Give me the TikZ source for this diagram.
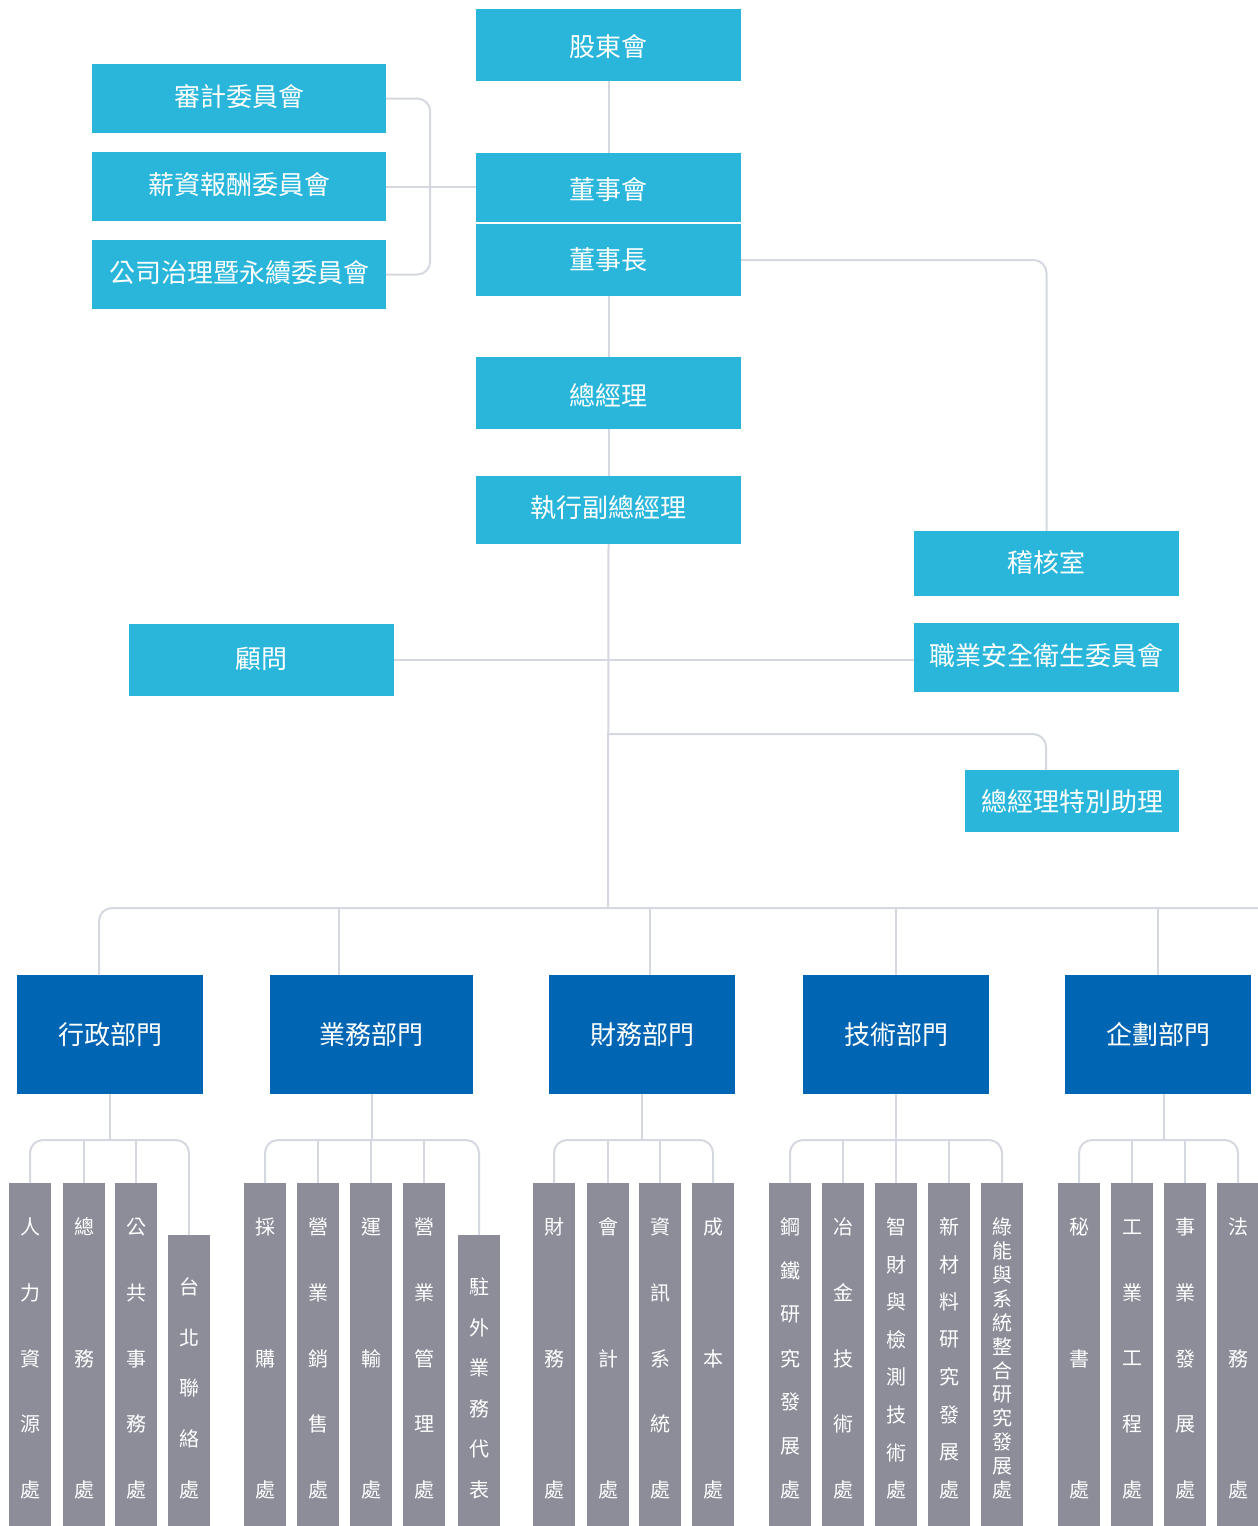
\documentclass[tikz,border=0pt]{standalone}
\usepackage{fontspec}
\newfontfamily\tcfont{Noto Sans CJK TC}
\usetikzlibrary{calc}
\definecolor{cyanbox}{RGB}{41,182,218}
\definecolor{deptblue}{RGB}{0,102,179}
\definecolor{subgray}{RGB}{140,141,153}
\definecolor{connline}{RGB}{213,216,224}
\tikzset{
  topbox/.style={fill=cyanbox, text=white, inner sep=0pt, font=\tcfont\fontsize{26}{30}\selectfont},
  deptbox/.style={fill=deptblue, text=white, inner sep=0pt, minimum height=119pt, font=\tcfont\fontsize{26}{30}\selectfont},
  subbox/.style={fill=subgray, inner sep=0pt, minimum width=42pt},
  subtext/.style={text=white, inner sep=0pt, font=\tcfont\fontsize{20}{24}\selectfont},
  conn/.style={draw=connline, line width=2pt, rounded corners=13pt},
}
% move the ink of a label down by #1 without changing its box
\newcommand{\lowertext}[2]{\raisebox{-#1}[\height][\depth]{#2}}
\newcommand{\subcol}[6]{%
  \pgfmathsetlengthmacro\subh{(1526-#3)*1pt}%
  \node[subbox, minimum height=\subh, anchor=north] (#1) at (#2,#3) {};
  \foreach \ch [count=\ci] in {#6} {
    \pgfmathsetmacro\yy{#4+(\ci-1)*(1490-#4)/(#5-1)}
    \node[subtext] (#1-\ci) at (#2,\yy) {\ch};
  }
}
\begin{document}
\begin{tikzpicture}[x=1pt, y=-1pt]
\useasboundingbox (0,0) rectangle (1258,1526);
% top boxes
\node[topbox, minimum width=265pt, minimum height=72pt] (sh) at (608.5,45) {\lowertext{2pt}{股東會}};
\node[topbox, minimum width=294pt, minimum height=69pt] (audit) at (239,98.5) {\lowertext{-1.5pt}{審計委員會}};
\node[topbox, minimum width=294pt, minimum height=69pt] (salary) at (239,186.5) {\lowertext{-1.5pt}{薪資報酬委員會}};
\node[topbox, minimum width=294pt, minimum height=69pt] (gov) at (239,274.5) {\lowertext{-1.5pt}{公司治理暨永續委員會}};
\node[topbox, minimum width=265pt, minimum height=69pt] (board) at (608.5,187.5) {\lowertext{2pt}{董事會}};
\node[topbox, minimum width=265pt, minimum height=72pt] (chair) at (608.5,260) {\lowertext{-0.5pt}{董事長}};
\node[topbox, minimum width=265pt, minimum height=72pt] (gm) at (608.5,393) {\lowertext{2.5pt}{總經理}};
\node[topbox, minimum width=265pt, minimum height=68pt] (evp) at (608.5,510) {\lowertext{-2.5pt}{執行副總經理}};
\node[topbox, minimum width=265pt, minimum height=65pt] (auditoff) at (1046.5,563.5) {\lowertext{-1.5pt}{稽核室}};
\node[topbox, minimum width=265pt, minimum height=72pt] (advisor) at (261.5,660) {\lowertext{-1.5pt}{顧問}};
\node[topbox, minimum width=265pt, minimum height=69pt] (safety) at (1046.5,657.5) {\lowertext{-1.5pt}{職業安全衛生委員會}};
\node[topbox, minimum width=214pt, minimum height=62pt] (assist) at (1072,801) {\lowertext{1pt}{總經理特別助理}};
% departments
\node[deptbox, minimum width=186pt] (d1) at (110,1034.5) {行政部門};
\node[deptbox, minimum width=203pt] (d2) at (371.5,1034.5) {業務部門};
\node[deptbox, minimum width=186pt] (d3) at (642,1034.5) {財務部門};
\node[deptbox, minimum width=186pt] (d4) at (896,1034.5) {技術部門};
\node[deptbox, minimum width=186pt] (d5) at (1158,1034.5) {企劃部門};
% sub units
\subcol{s11}{30}{1183}{1227}{5}{人,力,資,源,處}
\subcol{s12}{84}{1183}{1227}{3}{總,務,處}
\subcol{s13}{136}{1183}{1227}{5}{公,共,事,務,處}
\subcol{s14}{189}{1235}{1287}{5}{台,北,聯,絡,處}
\subcol{s21}{265}{1183}{1227}{3}{採,購,處}
\subcol{s22}{318}{1183}{1227}{5}{營,業,銷,售,處}
\subcol{s23}{371}{1183}{1227}{3}{運,輸,處}
\subcol{s24}{424}{1183}{1227}{5}{營,業,管,理,處}
\subcol{s25}{479}{1235}{1287}{6}{駐,外,業,務,代,表}
\subcol{s31}{554}{1183}{1227}{3}{財,務,處}
\subcol{s32}{608}{1183}{1227}{3}{會,計,處}
\subcol{s33}{660}{1183}{1227}{5}{資,訊,系,統,處}
\subcol{s34}{713}{1183}{1227}{3}{成,本,處}
\subcol{s41}{790}{1183}{1227}{7}{鋼,鐵,研,究,發,展,處}
\subcol{s42}{843}{1183}{1227}{5}{冶,金,技,術,處}
\subcol{s43}{896}{1183}{1227}{8}{智,財,與,檢,測,技,術,處}
\subcol{s44}{949}{1183}{1227}{8}{新,材,料,研,究,發,展,處}
\subcol{s45}{1002}{1183}{1227}{12}{綠,能,與,系,統,整,合,研,究,發,展,處}
\subcol{s51}{1079}{1183}{1227}{3}{秘,書,處}
\subcol{s52}{1132}{1183}{1227}{5}{工,業,工,程,處}
\subcol{s53}{1185}{1183}{1227}{5}{事,業,發,展,處}
\subcol{s54}{1238}{1183}{1227}{3}{法,務,處}
% coordinates
\coordinate (j734) at (608,734);
\coordinate (a2) at (1046,770);
\coordinate (j908) at (608,908);
\coordinate (rend) at (1258,908);
\coordinate (t1) at (99,975);
\coordinate (t2) at (339,975);
\coordinate (t3) at (650,975);
\coordinate (b1) at (110,1140);
\coordinate (b2) at (372,1140);
\coordinate (b3) at (642,1140);
\coordinate (b4) at (896,1140);
\coordinate (b5) at (1164,1140);
% connectors top
\draw[conn] (sh.south) -- (board.north);
\draw[conn] (chair.south) -- (gm.north);
\draw[conn] (gm.south) -- (evp.north);
\draw[conn] (evp.south) -- (j908);
\draw[conn] (audit.east) -- ++(44,0) |- (gov.east);
\draw[conn] (salary.east) -- (salary.east -| board.west);
\draw[conn] (chair.east) -| (auditoff.north);
\draw[conn] (advisor.east) -- (advisor.east -| safety.west);
\draw[conn] (j734) -| (a2);
% level line
\draw[conn] (t1) |- (rend);
\draw[conn] (t2 |- j908) -- (t2);
\draw[conn] (t3 |- j908) -- (t3);
\draw[conn] (d4.north |- j908) -- (d4.north);
\draw[conn] (d5.north |- j908) -- (d5.north);
% group brackets
\draw[conn] (b1 |- d1.south) -- (b1);
\draw[conn] (s11.north) |- (b1) -| (s14.north);
\draw[conn] (s12.north |- b1) -- (s12.north);
\draw[conn] (s13.north |- b1) -- (s13.north);
\draw[conn] (b2 |- d2.south) -- (b2);
\draw[conn] (s21.north) |- (b2) -| (s25.north);
\draw[conn] (s22.north |- b2) -- (s22.north);
\draw[conn] (s23.north |- b2) -- (s23.north);
\draw[conn] (s24.north |- b2) -- (s24.north);
\draw[conn] (b3 |- d3.south) -- (b3);
\draw[conn] (s31.north) |- (b3) -| (s34.north);
\draw[conn] (s32.north |- b3) -- (s32.north);
\draw[conn] (s33.north |- b3) -- (s33.north);
\draw[conn] (b4 |- d4.south) -- (b4);
\draw[conn] (s41.north) |- (b4) -| (s45.north);
\draw[conn] (s42.north |- b4) -- (s42.north);
\draw[conn] (s43.north |- b4) -- (s43.north);
\draw[conn] (s44.north |- b4) -- (s44.north);
\draw[conn] (b5 |- d5.south) -- (b5);
\draw[conn] (s51.north) |- (b5) -| (s54.north);
\draw[conn] (s52.north |- b5) -- (s52.north);
\draw[conn] (s53.north |- b5) -- (s53.north);
\end{tikzpicture}
\end{document}
